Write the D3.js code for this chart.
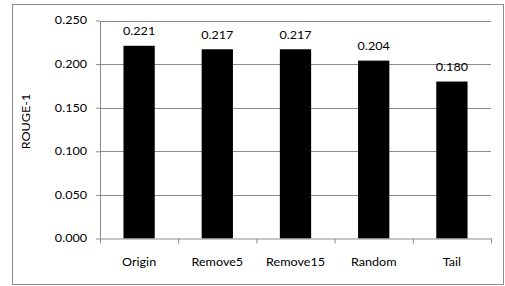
<!DOCTYPE html>
<html>
<head>
<meta charset="utf-8">
<script src="https://cdn.jsdelivr.net/npm/d3@7"></script>
<style>
  html, body { margin: 0; padding: 0; background: #fff; }
  svg { display: block; }
  text { font-family: Lato, "Open Sans", sans-serif; fill: #000; }
</style>
</head>
<body>
<svg id="chart" width="505" height="286"></svg>
<script>
const categories = ["Origin", "Remove5", "Remove15", "Random", "Tail"];
const values = [0.221, 0.217, 0.217, 0.204, 0.180];
const yTicks = [0, 0.05, 0.10, 0.15, 0.20, 0.25];
const yTitle = "ROUGE-1";

(function () {
const plotL = 100, plotR = 491, plotT = 20.5, plotB = 238.5;
const SX = 1.2;      // horizontal text stretch
const FS = 10.5;     // font size
const gridColor = "#8c8c8c";

const svg = d3.select("#chart");

// outer frame
svg.append("rect")
  .attr("x", 12.5).attr("y", 4.5)
  .attr("width", 491).attr("height", 280)
  .attr("fill", "#fff").attr("stroke", gridColor).attr("stroke-width", 1);

const y = d3.scaleLinear().domain([0, 0.25]).range([plotB, plotT]);
const x = d3.scaleBand().domain(categories).range([plotL, plotR])
  .paddingInner(0.6).paddingOuter(0.3);
const xb = d3.scaleLinear().domain([0, categories.length]).range([plotL, plotR]);

// gridlines
svg.append("g").selectAll("line")
  .data(yTicks.filter(t => t > 0))
  .join("line")
  .attr("x1", plotL).attr("x2", plotR)
  .attr("y1", d => Math.round(y(d)) + 0.5).attr("y2", d => Math.round(y(d)) + 0.5)
  .attr("stroke", gridColor).attr("stroke-width", 1);

// y axis
const yAxis = svg.append("g")
  .attr("transform", `translate(${plotL},0)`)
  .call(d3.axisLeft(y).tickValues(yTicks).tickFormat(d3.format(".3f")).tickSize(4).tickSizeOuter(0));
yAxis.select(".domain").attr("stroke", gridColor);
yAxis.selectAll(".tick line").attr("stroke", gridColor);
yAxis.selectAll(".tick text")
  .attr("x", -13 / SX)
  .attr("transform", `scale(${SX},1)`)
  .style("font-size", FS + "px")
  .style("font-family", "Lato, 'Open Sans', sans-serif")
  .attr("fill", "#000");

// bars
svg.append("g").selectAll("rect")
  .data(values)
  .join("rect")
  .attr("x", (d, i) => x(categories[i]))
  .attr("width", x.bandwidth())
  .attr("y", d => y(d))
  .attr("height", d => y(0) - y(d))
  .attr("fill", "#000");

// x axis ticks at boundaries
const xAxis = svg.append("g")
  .attr("transform", `translate(0,${plotB})`)
  .call(d3.axisBottom(xb).tickValues(d3.range(categories.length + 1)).tickFormat("").tickSize(5).tickSizeOuter(0));
xAxis.select(".domain").attr("stroke", gridColor);
xAxis.selectAll(".tick line").attr("stroke", gridColor);

// x labels
const xLab = svg.append("g")
  .attr("transform", `translate(0,${plotB})`)
  .call(d3.axisBottom(x).tickSize(0).tickPadding(0));
xLab.select(".domain").remove();
xLab.selectAll(".tick text")
  .attr("y", 28).attr("dy", 0)
  .attr("transform", `scale(${SX},1)`)
  .style("font-size", FS + "px")
  .style("font-family", "Lato, 'Open Sans', sans-serif")
  .attr("fill", "#000");

// value labels
svg.append("g").selectAll("text")
  .data(values)
  .join("text")
  .attr("transform", (d, i) => `translate(${x(categories[i]) + x.bandwidth() / 2},${y(d) - 10.5}) scale(${SX},1)`)
  .attr("text-anchor", "middle")
  .style("font-size", FS + "px")
  .text(d => d3.format(".3f")(d));

// y title
svg.append("text")
  .attr("transform", `translate(30,121.5) rotate(-90) scale(${SX},1)`)
  .attr("text-anchor", "middle")
  .style("font-size", FS + "px")
  .text(yTitle);
})();
</script>
</body>
</html>
